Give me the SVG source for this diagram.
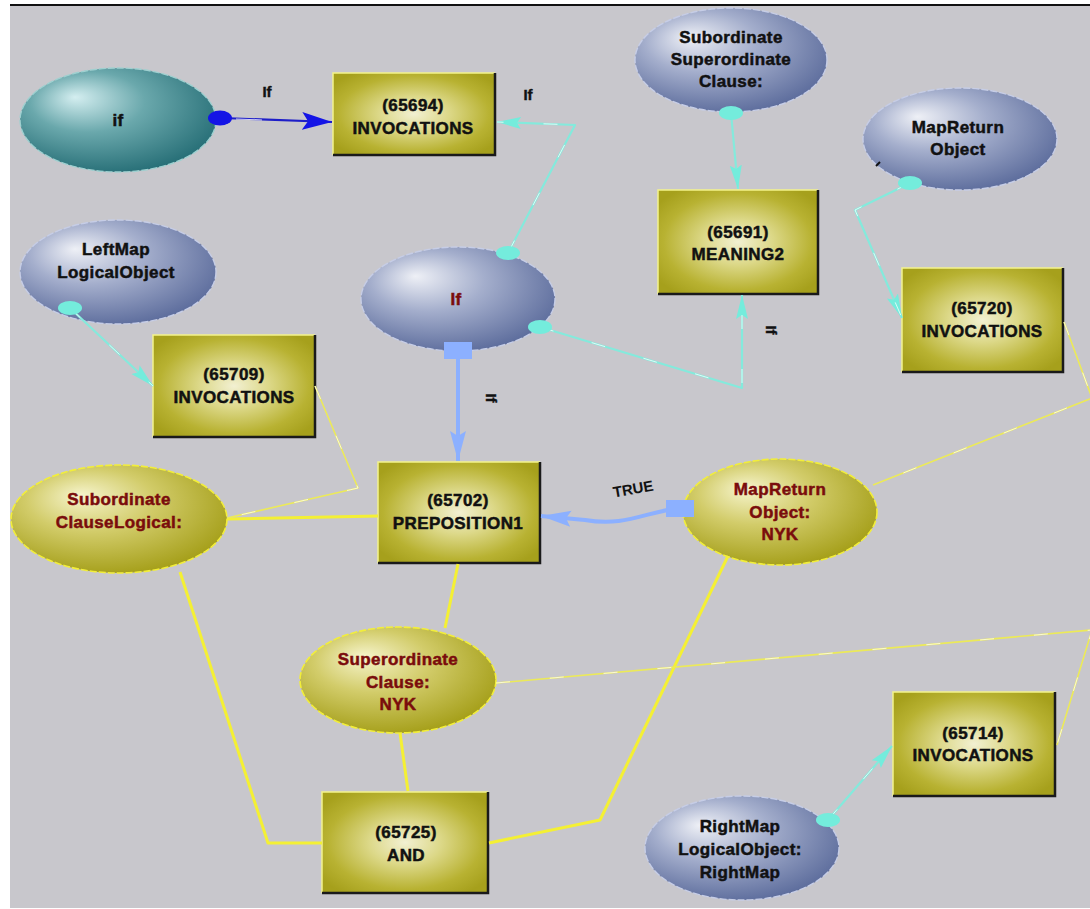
<svg xmlns="http://www.w3.org/2000/svg" width="1090" height="909" viewBox="0 0 1090 909">
  <style>
    .lbl { font-family: "Liberation Sans", Arial, sans-serif; font-weight: bold; font-size: 17px; letter-spacing: 0.4px; text-anchor: middle; fill: #111; stroke: #111; stroke-width: 0.5; }
    .red { fill: #7a0c0c; stroke: #7a0c0c; }
    .elabel { font-family: "Liberation Sans", Arial, sans-serif; font-weight: bold; font-size: 15px; fill: #111; stroke: #111; stroke-width: 0.4; text-anchor: middle; }
    .true { font-family: "Liberation Sans", Arial, sans-serif; font-weight: bold; font-size: 15px; fill: #111; text-anchor: middle; }
    .box { fill: url(#gBox); }
    .boxHi { fill: none; stroke: #f4f48a; stroke-width: 1.5; }
    .boxSh { fill: none; stroke: #1a1a1a; stroke-width: 2.5; }
    .eOlive { fill: url(#gOlive); stroke: #f2ee3a; stroke-width: 1.6; stroke-dasharray: 7 2; }
    .eBlue { fill: url(#gBlue); stroke: #c6cde6; stroke-width: 1.4; stroke-dasharray: 7 2; }
    .eTeal { fill: url(#gTeal); stroke: #9fd0d0; stroke-width: 1.4; stroke-dasharray: 7 2; }
    .yThick { fill: none; stroke: #f4f034; stroke-width: 3; stroke-linejoin: round; }
    .yThin { fill: none; stroke: #ecea58; stroke-width: 1.6; stroke-linejoin: round; }
    .hl { fill: none; stroke: #ffffff; stroke-width: 1; stroke-dasharray: 14 40; opacity: 0.75; }
    .cyan { fill: none; stroke: #84eadc; stroke-width: 2.2; stroke-linejoin: round; }
    .cyanDot { fill: #74ecdc; }
    .lblue { fill: none; stroke: #8cb0ff; stroke-width: 4; }
    .lblueSq { fill: #8cb0ff; }
  </style>
  <defs>
    <radialGradient id="gBox" cx="0.5" cy="0.5" r="0.62">
      <stop offset="0" stop-color="#f2f0d2"/>
      <stop offset="0.35" stop-color="#dcd888"/>
      <stop offset="0.75" stop-color="#b8b232"/>
      <stop offset="1" stop-color="#a6a01c"/>
    </radialGradient>
    <radialGradient id="gOlive" cx="0.42" cy="0.38" r="0.65" fx="0.32" fy="0.28">
      <stop offset="0" stop-color="#f6f4cc"/>
      <stop offset="0.45" stop-color="#d2cc6a"/>
      <stop offset="1" stop-color="#a49e18"/>
    </radialGradient>
    <radialGradient id="gBlue" cx="0.42" cy="0.38" r="0.65" fx="0.28" fy="0.28">
      <stop offset="0" stop-color="#eef0f6"/>
      <stop offset="0.45" stop-color="#a4aecc"/>
      <stop offset="1" stop-color="#5c6c9c"/>
    </radialGradient>
    <radialGradient id="gTeal" cx="0.42" cy="0.38" r="0.65" fx="0.28" fy="0.28">
      <stop offset="0" stop-color="#d4eef0"/>
      <stop offset="0.45" stop-color="#6aa8ac"/>
      <stop offset="1" stop-color="#266e76"/>
    </radialGradient>
    <marker id="aCyan" markerUnits="userSpaceOnUse" markerWidth="26" markerHeight="14" refX="24" refY="7" orient="auto">
      <path d="M0,1 L24,7 L0,13 L4,7 z" fill="#74ecdc"/>
    </marker>
    <marker id="aBlue" markerUnits="userSpaceOnUse" markerWidth="32" markerHeight="18" refX="30" refY="9" orient="auto">
      <path d="M0,1 L30,9 L0,17 L5,9 z" fill="#8cb0ff"/>
    </marker>
    <marker id="aDark" markerUnits="userSpaceOnUse" markerWidth="32" markerHeight="22" refX="30" refY="11" orient="auto">
      <path d="M0,2 L30,11 L0,20 L6,11 z" fill="#1414e6"/>
    </marker>
  </defs>

  <!-- canvas -->
  <rect x="0" y="0" width="1090" height="909" fill="#ffffff"/>
  <rect x="10" y="6" width="1080" height="902" fill="#c8c7cc"/>
  <line x1="10" y1="5" x2="1090" y2="5" stroke="#111" stroke-width="2"/>

  <!-- nodes -->
  <g id="n-if">
    <ellipse class="eTeal" cx="118" cy="120" rx="98" ry="52"/>
    <text class="lbl" x="118" y="126">if</text>
  </g>

  <g id="n-65694">
    <rect class="box" x="333" y="73" width="162" height="82"/>
    <path class="boxHi" d="M333,155 L333,73 L495,73"/>
    <path class="boxSh" d="M495,73 L495,155 L333,155"/>
    <text class="lbl" x="413" y="111">(65694)</text>
    <text class="lbl" x="413" y="134">INVOCATIONS</text>
  </g>

  <g id="n-subsup">
    <ellipse class="eBlue" cx="731" cy="60" rx="96" ry="52"/>
    <text class="lbl" x="731" y="43">Subordinate</text>
    <text class="lbl" x="731" y="65">Superordinate</text>
    <text class="lbl" x="731" y="87">Clause:</text>
  </g>

  <g id="n-mapreturn">
    <ellipse class="eBlue" cx="960" cy="139" rx="97" ry="51"/>
    <text class="lbl" x="958" y="133">MapReturn</text>
    <text class="lbl" x="958" y="155">Object</text>
    <path d="M876,166 L880,162" stroke="#111" stroke-width="2"/>
  </g>

  <g id="n-65691">
    <rect class="box" x="658" y="190" width="160" height="104"/>
    <path class="boxHi" d="M658,294 L658,190 L818,190"/>
    <path class="boxSh" d="M818,190 L818,294 L658,294"/>
    <text class="lbl" x="738" y="238">(65691)</text>
    <text class="lbl" x="738" y="260">MEANING2</text>
  </g>

  <g id="n-leftmap">
    <ellipse class="eBlue" cx="118" cy="272" rx="98" ry="52"/>
    <text class="lbl" x="116" y="255">LeftMap</text>
    <text class="lbl" x="116" y="278">LogicalObject</text>
  </g>

  <g id="n-If">
    <ellipse class="eBlue" cx="458" cy="299" rx="97" ry="52"/>
    <text class="lbl red" x="456" y="305">If</text>
  </g>

  <g id="n-65720">
    <rect class="box" x="902" y="268" width="161" height="104"/>
    <path class="boxHi" d="M902,372 L902,268 L1063,268"/>
    <path class="boxSh" d="M1063,268 L1063,372 L902,372"/>
    <text class="lbl" x="982" y="314">(65720)</text>
    <text class="lbl" x="982" y="337">INVOCATIONS</text>
  </g>

  <g id="n-65709">
    <rect class="box" x="153" y="335" width="162" height="102"/>
    <path class="boxHi" d="M153,437 L153,335 L315,335"/>
    <path class="boxSh" d="M315,335 L315,437 L153,437"/>
    <text class="lbl" x="234" y="380">(65709)</text>
    <text class="lbl" x="234" y="403">INVOCATIONS</text>
  </g>

  <g id="n-subclause">
    <ellipse class="eOlive" cx="119" cy="519" rx="108" ry="54"/>
    <text class="lbl red" x="119" y="505">Subordinate</text>
    <text class="lbl red" x="119" y="528">ClauseLogical:</text>
  </g>

  <g id="n-65702">
    <rect class="box" x="378" y="462" width="162" height="101"/>
    <path class="boxHi" d="M378,563 L378,462 L540,462"/>
    <path class="boxSh" d="M540,462 L540,563 L378,563"/>
    <text class="lbl" x="458" y="506">(65702)</text>
    <text class="lbl" x="458" y="529">PREPOSITION1</text>
  </g>

  <g id="n-mapreturn-nyk">
    <ellipse class="eOlive" cx="780" cy="512" rx="97" ry="53"/>
    <text class="lbl red" x="780" y="495">MapReturn</text>
    <text class="lbl red" x="780" y="518">Object:</text>
    <text class="lbl red" x="780" y="540">NYK</text>
  </g>

  <g id="n-superclause">
    <ellipse class="eOlive" cx="398" cy="680" rx="98" ry="53"/>
    <text class="lbl red" x="398" y="665">Superordinate</text>
    <text class="lbl red" x="398" y="688">Clause:</text>
    <text class="lbl red" x="398" y="710">NYK</text>
  </g>

  <g id="n-65714">
    <rect class="box" x="893" y="692" width="162" height="104"/>
    <path class="boxHi" d="M893,796 L893,692 L1055,692"/>
    <path class="boxSh" d="M1055,692 L1055,796 L893,796"/>
    <text class="lbl" x="973" y="739">(65714)</text>
    <text class="lbl" x="973" y="761">INVOCATIONS</text>
  </g>

  <g id="n-65725">
    <rect class="box" x="322" y="792" width="166" height="101"/>
    <path class="boxHi" d="M322,893 L322,792 L488,792"/>
    <path class="boxSh" d="M488,792 L488,893 L322,893"/>
    <text class="lbl" x="406" y="838">(65725)</text>
    <text class="lbl" x="406" y="861">AND</text>
  </g>

  <g id="n-rightmap">
    <ellipse class="eBlue" cx="742" cy="848" rx="97" ry="52"/>
    <text class="lbl" x="740" y="832">RightMap</text>
    <text class="lbl" x="740" y="855">LogicalObject:</text>
    <text class="lbl" x="740" y="878">RightMap</text>
  </g>

  <!-- connectors, drawn over the node outlines so their end caps sit on top -->
  <g id="connectors">
    <!-- yellow links -->
    <path class="yThick" d="M227,519 L378,516"/>
    <path class="yThin" d="M315,386 L358,488 L227,518"/>
    <path class="hl" d="M315,386 L358,488 L227,518"/>
    <path class="yThick" d="M180,572 L268,843 L322,843"/>
    <path class="yThick" d="M458,564 L445,628"/>
    <path class="yThick" d="M400,733 L408,791"/>
    <path class="yThick" d="M489,843 L600,820 L728,556"/>
    <path class="yThin" d="M496,683 L1092,630 L1057,745"/>
    <path class="hl" d="M496,683 L1092,630 L1057,745"/>
    <path class="yThin" d="M1064,322 L1092,398 L873,485"/>
    <path class="hl" d="M1064,322 L1092,398 L873,485"/>

    <!-- dark blue: if -> (65694) -->
    <path d="M222,118 L332,122" fill="none" stroke="#1e1ec8" stroke-width="2.2" marker-end="url(#aDark)"/>
    <path d="M236,119 L262,120" stroke="#ffffff" stroke-width="1.2" opacity="0.8"/>
    <ellipse cx="220" cy="118" rx="12" ry="7.5" fill="#1414e6"/>

    <!-- cyan links -->
    <path class="cyan" d="M508,253 L575,125 L497,122" marker-end="url(#aCyan)"/>
    <path class="hl" d="M508,253 L575,125 L497,122"/>
    <ellipse class="cyanDot" cx="508" cy="253" rx="12" ry="7"/>

    <path class="cyan" d="M731,113 L738,189" marker-end="url(#aCyan)"/>
    <ellipse class="cyanDot" cx="731" cy="113" rx="12" ry="7"/>

    <path class="cyan" d="M910,183 L855,210 L902,318" marker-end="url(#aCyan)"/>
    <path class="hl" d="M910,183 L855,210 L902,318"/>
    <ellipse class="cyanDot" cx="910" cy="183" rx="12" ry="7"/>

    <path class="cyan" d="M70,308 L153,386" marker-end="url(#aCyan)"/>
    <path class="hl" d="M70,308 L153,386"/>
    <ellipse class="cyanDot" cx="70" cy="308" rx="12" ry="7"/>

    <path class="cyan" d="M540,327 L742,388 L742,295" marker-end="url(#aCyan)"/>
    <path class="hl" d="M540,327 L742,388 L742,295"/>
    <ellipse class="cyanDot" cx="540" cy="327" rx="12" ry="7"/>

    <path class="cyan" d="M828,820 L892,746" marker-end="url(#aCyan)"/>
    <path class="hl" d="M828,820 L892,746"/>
    <ellipse class="cyanDot" cx="828" cy="820" rx="12" ry="7"/>

    <!-- light blue links -->
    <path class="lblue" d="M458,350 L458,461" marker-end="url(#aBlue)"/>
    <rect class="lblueSq" x="444" y="342" width="28" height="17"/>
    <path class="lblue" d="M680,508 C645,512 625,527 585,520 L541,516" marker-end="url(#aBlue)"/>
    <rect class="lblueSq" x="666" y="500" width="28" height="17"/>

    <!-- link labels -->
    <text class="elabel" x="267" y="97">If</text>
    <text class="elabel" x="528" y="100">If</text>
    <text class="elabel" transform="translate(766,330) rotate(90)">If</text>
    <text class="elabel" transform="translate(486,398) rotate(90)">If</text>
    <text class="true" transform="translate(634,494) rotate(-10)">TRUE</text>
  </g>
</svg>
